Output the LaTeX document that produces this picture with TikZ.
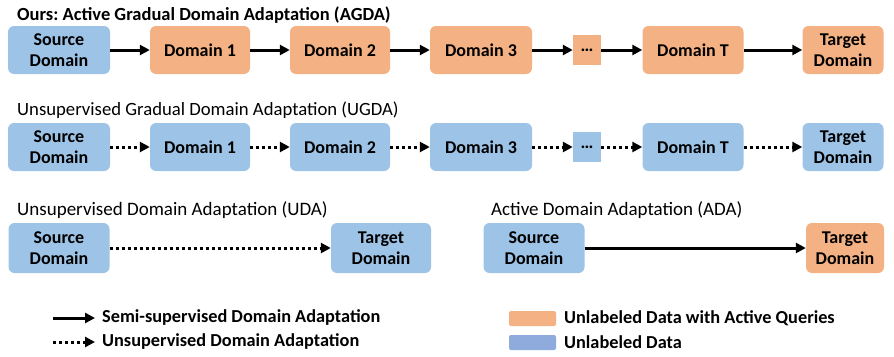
\documentclass[tikz,border=0pt]{standalone}
\usepackage{fontspec}
\setmainfont{Carlito}
\frenchspacing
\usetikzlibrary{arrows.meta}
\definecolor{srcblue}{HTML}{9DC3E6}
\definecolor{qorange}{HTML}{F4B183}
\definecolor{legblue}{HTML}{8FAADC}
\tikzset{
  dom/.style={rounded corners=6pt, minimum width=100pt, minimum height=48pt,
    inner sep=0pt, align=center, font=\bfseries\fontsize{18}{20.5}\selectfont},
  unl/.style={dom, fill=srcblue},
  act/.style={dom, fill=qorange},
  gap/.style={dom, rounded corners=0pt, minimum width=28pt, minimum height=30pt},
  semi/.style={line width=3pt, -{Triangle[length=10pt,width=10pt]}},
  unsup/.style={semi, dash pattern=on 3pt off 3pt},
  ttl/.style={anchor=west, inner sep=0pt, font=\fontsize{18.7}{20}\selectfont},
  key/.style={anchor=west, inner sep=0pt, font=\bfseries\fontsize{18.3}{20}\selectfont},
}
\begin{document}
\begin{tikzpicture}[x=1pt, y=-1pt]
  \useasboundingbox (0,0) rectangle (894,356);

  % AGDA
  \node[ttl, font=\bfseries\fontsize{18.5}{20}\selectfont] (tagda) at (17,15) {Ours: Active Gradual Domain Adaptation (AGDA)};
  \node[unl, minimum width=102pt] (as) at (59,50) {Source\\Domain};
  \node[act] (a1) at (200,50) {Domain 1};
  \node[act] (a2) at (340,50) {Domain 2};
  \node[act, minimum width=102pt] (a3) at (481,50) {Domain 3};
  \node[gap, fill=qorange] (adots) at (587,50) {\ldots};
  \node[act, minimum width=101pt] (aT) at (693,50) {Domain T};
  \node[act, minimum width=81pt] (at) at (843,50) {Target\\Domain};
  \draw[semi] (as) -- (a1);
  \draw[semi] (a1) -- (a2);
  \draw[semi] (a2) -- (a3);
  \draw[semi] (a3) -- (adots);
  \draw[semi] (adots) -- (aT);
  \draw[semi] (aT) -- (at);

  % UGDA
  \node[ttl] (tugda) at (17,110) {Unsupervised Gradual Domain Adaptation (UGDA)};
  \node[unl, minimum width=102pt] (us) at (59,147) {Source\\Domain};
  \node[unl] (u1) at (200,147) {Domain 1};
  \node[unl] (u2) at (340,147) {Domain 2};
  \node[unl, minimum width=102pt] (u3) at (481,147) {Domain 3};
  \node[gap, fill=srcblue] (udots) at (587,147) {\ldots};
  \node[unl, minimum width=101pt] (uT) at (693,147) {Domain T};
  \node[unl, minimum width=81pt] (ut) at (843,147) {Target\\Domain};
  \draw[unsup] (us) -- (u1);
  \draw[unsup] (u1) -- (u2);
  \draw[unsup] (u2) -- (u3);
  \draw[unsup] (u3) -- (udots);
  \draw[unsup] (udots) -- (uT);
  \draw[unsup] (uT) -- (ut);

  % UDA and ADA
  \node[ttl, font=\fontsize{19}{20}\selectfont] (tuda) at (17,210) {Unsupervised Domain Adaptation (UDA)};
  \node[unl, minimum width=101pt, minimum height=50pt] (ds) at (59,248) {Source\\Domain};
  \node[unl, minimum height=50pt] (dt) at (381,248) {Target\\Domain};
  \draw[unsup] (ds) -- (dt);
  \node[ttl, font=\fontsize{19}{20}\selectfont] (tada) at (491,210) {Active Domain Adaptation (ADA)};
  \node[unl, minimum width=101pt, minimum height=50pt] (es) at (534,248) {Source\\Domain};
  \node[act, minimum width=78pt, minimum height=50pt] (et) at (845,248) {Target\\Domain};
  \draw[semi] (es) -- (et);

  % legend
  \coordinate (l1) at (53,318);
  \coordinate (l2) at (53,342);
  \draw[semi] (l1) -- ++(42,0) coordinate (l1e);
  \draw[unsup] (l2) -- ++(42,0) coordinate (l2e);
  \node[key] (k1) at (102,318) {Semi-supervised Domain Adaptation};
  \node[key] (k2) at (102,342) {Unsupervised Domain Adaptation};
  \fill[qorange, rounded corners=2pt] (509,311) rectangle (556,326);
  \fill[legblue, rounded corners=2pt] (509,335) rectangle (556,350);
  \node[key] (k3) at (564,318) {Unlabeled Data with Active Queries};
  \node[key] (k4) at (564,342) {Unlabeled Data};
\end{tikzpicture}
\end{document}
